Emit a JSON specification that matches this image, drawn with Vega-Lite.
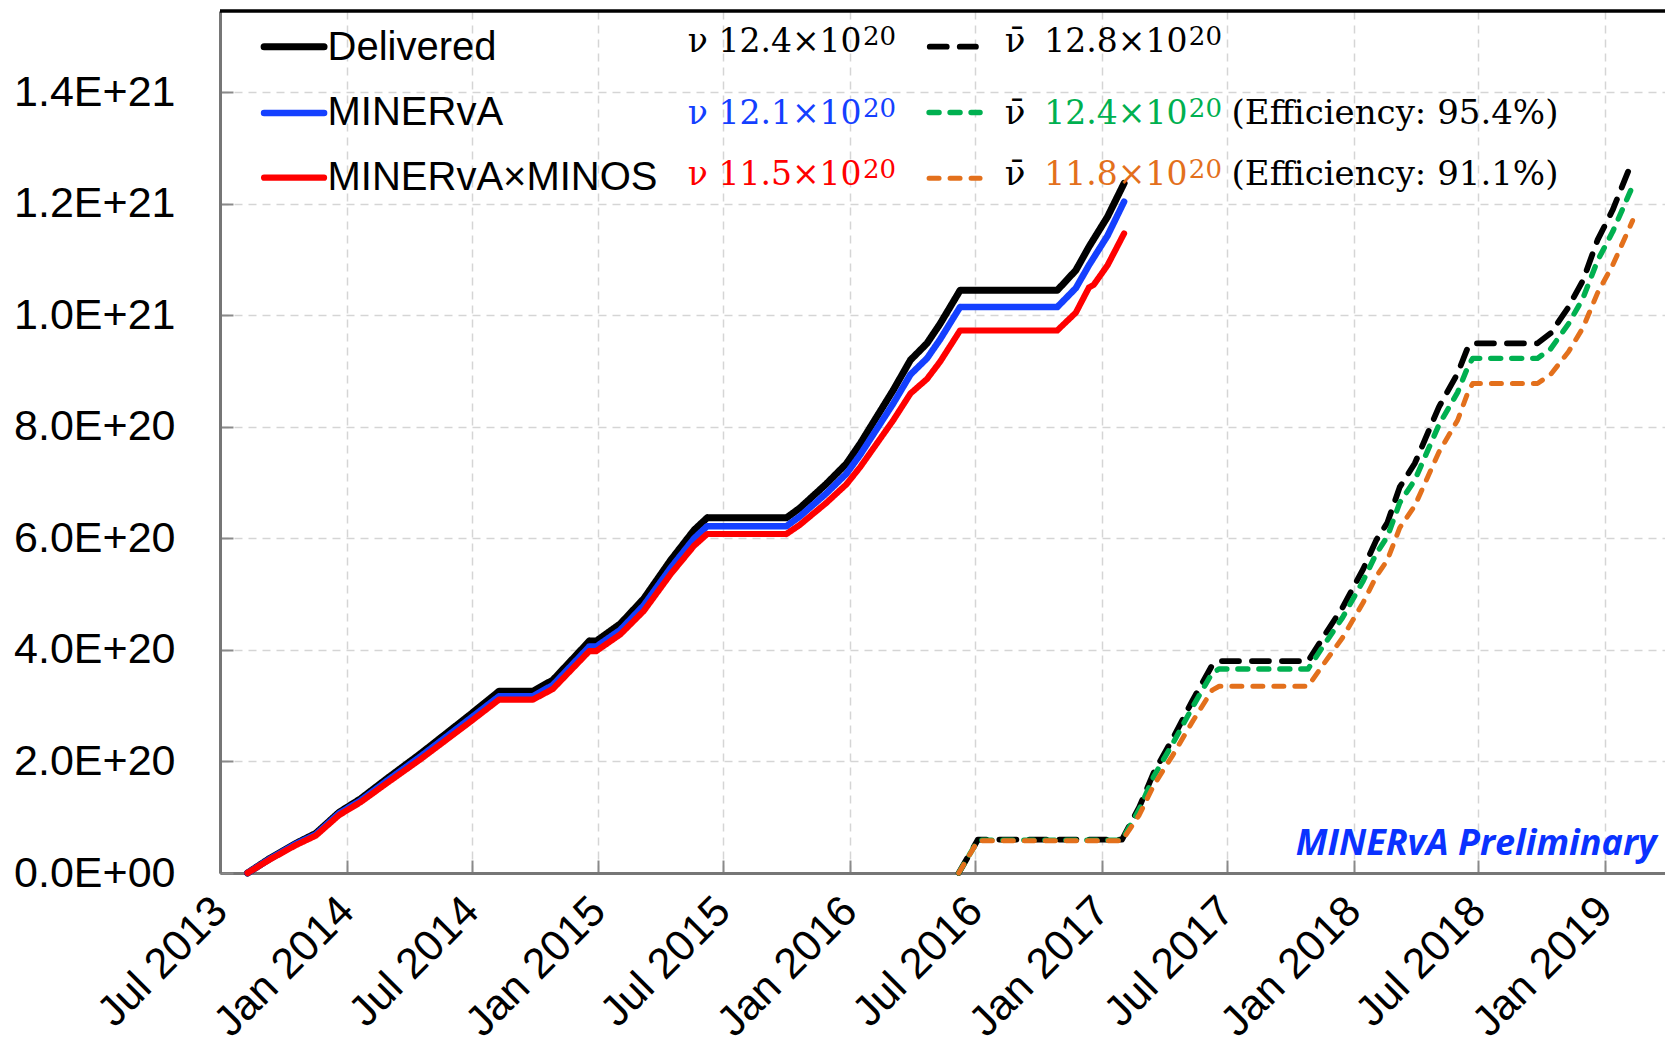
{
  "$schema": "https://vega.github.io/schema/vega-lite/v6.json",
  "width": 1445,
  "height": 862,
  "autosize": {"type": "none"},
  "padding": {"left": 220, "top": 11, "right": 0, "bottom": 173},
  "background": "#ffffff",
  "config": {
    "view": {"stroke": null},
    "font": "Liberation Sans",
    "axis": {
      "labelFont": "Liberation Sans",
      "labelFontSize": 43,
      "labelColor": "#000000",
      "labelLimit": 500,
      "tickColor": "#8a8a8a",
      "tickWidth": 2,
      "tickSize": -13,
      "domainColor": "#767676",
      "domainWidth": 3,
      "gridColor": "#d5d5d5",
      "gridDash": [8, 6],
      "gridWidth": 1.5,
      "labelFlush": false,
      "labelOverlap": false,
      "labelBound": false
    },
    "axisX": {"labelAngle": -45, "labelAlign": "right", "labelBaseline": "middle", "labelPadding": 44, "labelFontSize": 43, "labelLimit": 500, "grid": true},
    "axisY": {"labelPadding": 58, "grid": true}
  },
  "datasets": {
    "curves": [
      {"series": "ν Delivered", "date": "2013-08-10", "pot": 0},
      {"series": "ν Delivered", "date": "2013-09-11", "pot": 0.26e20},
      {"series": "ν Delivered", "date": "2013-10-19", "pot": 0.53e20},
      {"series": "ν Delivered", "date": "2013-11-17", "pot": 0.71e20},
      {"series": "ν Delivered", "date": "2013-12-21", "pot": 1.09e20},
      {"series": "ν Delivered", "date": "2014-01-21", "pot": 1.33e20},
      {"series": "ν Delivered", "date": "2014-02-28", "pot": 1.69e20},
      {"series": "ν Delivered", "date": "2014-04-18", "pot": 2.14e20},
      {"series": "ν Delivered", "date": "2014-06-28", "pot": 2.83e20},
      {"series": "ν Delivered", "date": "2014-08-10", "pot": 3.26e20},
      {"series": "ν Delivered", "date": "2014-09-28", "pot": 3.26e20},
      {"series": "ν Delivered", "date": "2014-10-27", "pot": 3.46e20},
      {"series": "ν Delivered", "date": "2014-12-19", "pot": 4.16e20},
      {"series": "ν Delivered", "date": "2014-12-29", "pot": 4.16e20},
      {"series": "ν Delivered", "date": "2015-02-02", "pot": 4.47e20},
      {"series": "ν Delivered", "date": "2015-03-08", "pot": 4.92e20},
      {"series": "ν Delivered", "date": "2015-04-16", "pot": 5.61e20},
      {"series": "ν Delivered", "date": "2015-05-20", "pot": 6.15e20},
      {"series": "ν Delivered", "date": "2015-06-08", "pot": 6.37e20},
      {"series": "ν Delivered", "date": "2015-10-01", "pot": 6.37e20},
      {"series": "ν Delivered", "date": "2015-10-20", "pot": 6.54e20},
      {"series": "ν Delivered", "date": "2015-11-28", "pot": 6.98e20},
      {"series": "ν Delivered", "date": "2015-12-27", "pot": 7.34e20},
      {"series": "ν Delivered", "date": "2016-01-16", "pot": 7.70e20},
      {"series": "ν Delivered", "date": "2016-02-09", "pot": 8.18e20},
      {"series": "ν Delivered", "date": "2016-03-04", "pot": 8.66e20},
      {"series": "ν Delivered", "date": "2016-03-29", "pot": 9.20e20},
      {"series": "ν Delivered", "date": "2016-04-22", "pot": 9.50e20},
      {"series": "ν Delivered", "date": "2016-05-11", "pot": 9.85e20},
      {"series": "ν Delivered", "date": "2016-06-09", "pot": 10.45e20},
      {"series": "ν Delivered", "date": "2016-10-28", "pot": 10.45e20},
      {"series": "ν Delivered", "date": "2016-11-24", "pot": 10.81e20},
      {"series": "ν Delivered", "date": "2016-12-13", "pot": 11.23e20},
      {"series": "ν Delivered", "date": "2017-01-09", "pot": 11.77e20},
      {"series": "ν Delivered", "date": "2017-02-02", "pot": 12.37e20},

      {"series": "ν MINERvA", "date": "2013-08-10", "pot": 0},
      {"series": "ν MINERvA", "date": "2013-09-11", "pot": 0.25e20},
      {"series": "ν MINERvA", "date": "2013-10-19", "pot": 0.52e20},
      {"series": "ν MINERvA", "date": "2013-11-17", "pot": 0.69e20},
      {"series": "ν MINERvA", "date": "2013-12-21", "pot": 1.07e20},
      {"series": "ν MINERvA", "date": "2014-01-21", "pot": 1.30e20},
      {"series": "ν MINERvA", "date": "2014-02-28", "pot": 1.65e20},
      {"series": "ν MINERvA", "date": "2014-04-18", "pot": 2.09e20},
      {"series": "ν MINERvA", "date": "2014-06-28", "pot": 2.76e20},
      {"series": "ν MINERvA", "date": "2014-08-10", "pot": 3.17e20},
      {"series": "ν MINERvA", "date": "2014-09-28", "pot": 3.17e20},
      {"series": "ν MINERvA", "date": "2014-10-27", "pot": 3.37e20},
      {"series": "ν MINERvA", "date": "2014-12-19", "pot": 4.06e20},
      {"series": "ν MINERvA", "date": "2014-12-29", "pot": 4.06e20},
      {"series": "ν MINERvA", "date": "2015-02-02", "pot": 4.36e20},
      {"series": "ν MINERvA", "date": "2015-03-08", "pot": 4.80e20},
      {"series": "ν MINERvA", "date": "2015-04-16", "pot": 5.47e20},
      {"series": "ν MINERvA", "date": "2015-05-20", "pot": 6.00e20},
      {"series": "ν MINERvA", "date": "2015-06-08", "pot": 6.22e20},
      {"series": "ν MINERvA", "date": "2015-10-01", "pot": 6.22e20},
      {"series": "ν MINERvA", "date": "2015-10-20", "pot": 6.39e20},
      {"series": "ν MINERvA", "date": "2015-11-28", "pot": 6.81e20},
      {"series": "ν MINERvA", "date": "2015-12-27", "pot": 7.16e20},
      {"series": "ν MINERvA", "date": "2016-01-16", "pot": 7.50e20},
      {"series": "ν MINERvA", "date": "2016-02-09", "pot": 7.96e20},
      {"series": "ν MINERvA", "date": "2016-03-04", "pot": 8.42e20},
      {"series": "ν MINERvA", "date": "2016-03-29", "pot": 8.94e20},
      {"series": "ν MINERvA", "date": "2016-04-22", "pot": 9.23e20},
      {"series": "ν MINERvA", "date": "2016-05-11", "pot": 9.57e20},
      {"series": "ν MINERvA", "date": "2016-06-09", "pot": 10.15e20},
      {"series": "ν MINERvA", "date": "2016-10-28", "pot": 10.15e20},
      {"series": "ν MINERvA", "date": "2016-11-24", "pot": 10.49e20},
      {"series": "ν MINERvA", "date": "2016-12-13", "pot": 10.90e20},
      {"series": "ν MINERvA", "date": "2017-01-09", "pot": 11.43e20},
      {"series": "ν MINERvA", "date": "2017-02-02", "pot": 12.04e20},

      {"series": "ν MINERvA×MINOS", "date": "2013-08-10", "pot": 0},
      {"series": "ν MINERvA×MINOS", "date": "2013-09-11", "pot": 0.24e20},
      {"series": "ν MINERvA×MINOS", "date": "2013-10-19", "pot": 0.50e20},
      {"series": "ν MINERvA×MINOS", "date": "2013-11-17", "pot": 0.67e20},
      {"series": "ν MINERvA×MINOS", "date": "2013-12-21", "pot": 1.04e20},
      {"series": "ν MINERvA×MINOS", "date": "2014-01-21", "pot": 1.27e20},
      {"series": "ν MINERvA×MINOS", "date": "2014-02-28", "pot": 1.61e20},
      {"series": "ν MINERvA×MINOS", "date": "2014-04-18", "pot": 2.04e20},
      {"series": "ν MINERvA×MINOS", "date": "2014-06-28", "pot": 2.70e20},
      {"series": "ν MINERvA×MINOS", "date": "2014-08-10", "pot": 3.11e20},
      {"series": "ν MINERvA×MINOS", "date": "2014-09-28", "pot": 3.11e20},
      {"series": "ν MINERvA×MINOS", "date": "2014-10-27", "pot": 3.30e20},
      {"series": "ν MINERvA×MINOS", "date": "2014-12-19", "pot": 3.98e20},
      {"series": "ν MINERvA×MINOS", "date": "2014-12-29", "pot": 3.98e20},
      {"series": "ν MINERvA×MINOS", "date": "2015-02-02", "pot": 4.28e20},
      {"series": "ν MINERvA×MINOS", "date": "2015-03-08", "pot": 4.70e20},
      {"series": "ν MINERvA×MINOS", "date": "2015-04-16", "pot": 5.36e20},
      {"series": "ν MINERvA×MINOS", "date": "2015-05-20", "pot": 5.87e20},
      {"series": "ν MINERvA×MINOS", "date": "2015-06-08", "pot": 6.08e20},
      {"series": "ν MINERvA×MINOS", "date": "2015-10-01", "pot": 6.08e20},
      {"series": "ν MINERvA×MINOS", "date": "2015-10-20", "pot": 6.24e20},
      {"series": "ν MINERvA×MINOS", "date": "2015-11-28", "pot": 6.64e20},
      {"series": "ν MINERvA×MINOS", "date": "2015-12-27", "pot": 6.97e20},
      {"series": "ν MINERvA×MINOS", "date": "2016-01-16", "pot": 7.28e20},
      {"series": "ν MINERvA×MINOS", "date": "2016-02-09", "pot": 7.70e20},
      {"series": "ν MINERvA×MINOS", "date": "2016-03-04", "pot": 8.12e20},
      {"series": "ν MINERvA×MINOS", "date": "2016-03-29", "pot": 8.60e20},
      {"series": "ν MINERvA×MINOS", "date": "2016-04-22", "pot": 8.86e20},
      {"series": "ν MINERvA×MINOS", "date": "2016-05-11", "pot": 9.17e20},
      {"series": "ν MINERvA×MINOS", "date": "2016-06-09", "pot": 9.73e20},
      {"series": "ν MINERvA×MINOS", "date": "2016-10-28", "pot": 9.73e20},
      {"series": "ν MINERvA×MINOS", "date": "2016-11-24", "pot": 10.05e20},
      {"series": "ν MINERvA×MINOS", "date": "2016-12-13", "pot": 10.50e20},
      {"series": "ν MINERvA×MINOS", "date": "2016-12-20", "pot": 10.55e20},
      {"series": "ν MINERvA×MINOS", "date": "2017-01-09", "pot": 10.90e20},
      {"series": "ν MINERvA×MINOS", "date": "2017-02-02", "pot": 11.47e20},

      {"series": "ν̄ Delivered", "date": "2016-06-07", "pot": 0},
      {"series": "ν̄ Delivered", "date": "2016-07-05", "pot": 0.60e20},
      {"series": "ν̄ Delivered", "date": "2017-01-30", "pot": 0.60e20},
      {"series": "ν̄ Delivered", "date": "2017-02-24", "pot": 1.18e20},
      {"series": "ν̄ Delivered", "date": "2017-03-17", "pot": 1.80e20},
      {"series": "ν̄ Delivered", "date": "2017-04-14", "pot": 2.42e20},
      {"series": "ν̄ Delivered", "date": "2017-05-13", "pot": 3.11e20},
      {"series": "ν̄ Delivered", "date": "2017-06-10", "pot": 3.73e20},
      {"series": "ν̄ Delivered", "date": "2017-06-20", "pot": 3.80e20},
      {"series": "ν̄ Delivered", "date": "2017-10-27", "pot": 3.80e20},
      {"series": "ν̄ Delivered", "date": "2017-11-17", "pot": 4.21e20},
      {"series": "ν̄ Delivered", "date": "2017-12-16", "pot": 4.76e20},
      {"series": "ν̄ Delivered", "date": "2018-01-15", "pot": 5.45e20},
      {"series": "ν̄ Delivered", "date": "2018-02-03", "pot": 5.97e20},
      {"series": "ν̄ Delivered", "date": "2018-02-19", "pot": 6.28e20},
      {"series": "ν̄ Delivered", "date": "2018-03-09", "pot": 6.92e20},
      {"series": "ν̄ Delivered", "date": "2018-03-31", "pot": 7.35e20},
      {"series": "ν̄ Delivered", "date": "2018-05-05", "pot": 8.36e20},
      {"series": "ν̄ Delivered", "date": "2018-06-01", "pot": 8.96e20},
      {"series": "ν̄ Delivered", "date": "2018-06-16", "pot": 9.43e20},
      {"series": "ν̄ Delivered", "date": "2018-06-23", "pot": 9.50e20},
      {"series": "ν̄ Delivered", "date": "2018-09-25", "pot": 9.50e20},
      {"series": "ν̄ Delivered", "date": "2018-10-14", "pot": 9.68e20},
      {"series": "ν̄ Delivered", "date": "2018-11-09", "pot": 10.15e20},
      {"series": "ν̄ Delivered", "date": "2018-11-30", "pot": 10.63e20},
      {"series": "ν̄ Delivered", "date": "2018-12-21", "pot": 11.35e20},
      {"series": "ν̄ Delivered", "date": "2019-01-12", "pot": 11.89e20},
      {"series": "ν̄ Delivered", "date": "2019-02-10", "pot": 12.78e20},

      {"series": "ν̄ MINERvA", "date": "2016-06-07", "pot": 0},
      {"series": "ν̄ MINERvA", "date": "2016-07-05", "pot": 0.59e20},
      {"series": "ν̄ MINERvA", "date": "2017-01-30", "pot": 0.59e20},
      {"series": "ν̄ MINERvA", "date": "2017-02-24", "pot": 1.14e20},
      {"series": "ν̄ MINERvA", "date": "2017-03-17", "pot": 1.73e20},
      {"series": "ν̄ MINERvA", "date": "2017-04-14", "pot": 2.33e20},
      {"series": "ν̄ MINERvA", "date": "2017-05-13", "pot": 2.99e20},
      {"series": "ν̄ MINERvA", "date": "2017-06-10", "pot": 3.59e20},
      {"series": "ν̄ MINERvA", "date": "2017-06-20", "pot": 3.66e20},
      {"series": "ν̄ MINERvA", "date": "2017-10-27", "pot": 3.66e20},
      {"series": "ν̄ MINERvA", "date": "2017-11-17", "pot": 4.05e20},
      {"series": "ν̄ MINERvA", "date": "2017-12-16", "pot": 4.58e20},
      {"series": "ν̄ MINERvA", "date": "2018-01-15", "pot": 5.24e20},
      {"series": "ν̄ MINERvA", "date": "2018-02-03", "pot": 5.73e20},
      {"series": "ν̄ MINERvA", "date": "2018-02-19", "pot": 6.03e20},
      {"series": "ν̄ MINERvA", "date": "2018-03-09", "pot": 6.64e20},
      {"series": "ν̄ MINERvA", "date": "2018-03-31", "pot": 7.05e20},
      {"series": "ν̄ MINERvA", "date": "2018-05-05", "pot": 8.04e20},
      {"series": "ν̄ MINERvA", "date": "2018-06-01", "pot": 8.62e20},
      {"series": "ν̄ MINERvA", "date": "2018-06-16", "pot": 9.08e20},
      {"series": "ν̄ MINERvA", "date": "2018-06-23", "pot": 9.23e20},
      {"series": "ν̄ MINERvA", "date": "2018-09-25", "pot": 9.23e20},
      {"series": "ν̄ MINERvA", "date": "2018-10-14", "pot": 9.40e20},
      {"series": "ν̄ MINERvA", "date": "2018-11-09", "pot": 9.85e20},
      {"series": "ν̄ MINERvA", "date": "2018-11-30", "pot": 10.31e20},
      {"series": "ν̄ MINERvA", "date": "2018-12-21", "pot": 10.98e20},
      {"series": "ν̄ MINERvA", "date": "2019-01-12", "pot": 11.50e20},
      {"series": "ν̄ MINERvA", "date": "2019-02-10", "pot": 12.32e20},

      {"series": "ν̄ MINERvA×MINOS", "date": "2016-06-07", "pot": 0},
      {"series": "ν̄ MINERvA×MINOS", "date": "2016-07-05", "pot": 0.58e20},
      {"series": "ν̄ MINERvA×MINOS", "date": "2017-01-30", "pot": 0.58e20},
      {"series": "ν̄ MINERvA×MINOS", "date": "2017-02-24", "pot": 1.04e20},
      {"series": "ν̄ MINERvA×MINOS", "date": "2017-03-17", "pot": 1.57e20},
      {"series": "ν̄ MINERvA×MINOS", "date": "2017-04-14", "pot": 2.12e20},
      {"series": "ν̄ MINERvA×MINOS", "date": "2017-05-13", "pot": 2.73e20},
      {"series": "ν̄ MINERvA×MINOS", "date": "2017-06-10", "pot": 3.28e20},
      {"series": "ν̄ MINERvA×MINOS", "date": "2017-06-20", "pot": 3.35e20},
      {"series": "ν̄ MINERvA×MINOS", "date": "2017-10-27", "pot": 3.35e20},
      {"series": "ν̄ MINERvA×MINOS", "date": "2017-11-17", "pot": 3.72e20},
      {"series": "ν̄ MINERvA×MINOS", "date": "2017-12-16", "pot": 4.22e20},
      {"series": "ν̄ MINERvA×MINOS", "date": "2018-01-15", "pot": 4.85e20},
      {"series": "ν̄ MINERvA×MINOS", "date": "2018-02-03", "pot": 5.32e20},
      {"series": "ν̄ MINERvA×MINOS", "date": "2018-02-19", "pot": 5.61e20},
      {"series": "ν̄ MINERvA×MINOS", "date": "2018-03-09", "pot": 6.19e20},
      {"series": "ν̄ MINERvA×MINOS", "date": "2018-03-31", "pot": 6.59e20},
      {"series": "ν̄ MINERvA×MINOS", "date": "2018-05-05", "pot": 7.55e20},
      {"series": "ν̄ MINERvA×MINOS", "date": "2018-06-01", "pot": 8.12e20},
      {"series": "ν̄ MINERvA×MINOS", "date": "2018-06-16", "pot": 8.62e20},
      {"series": "ν̄ MINERvA×MINOS", "date": "2018-06-23", "pot": 8.78e20},
      {"series": "ν̄ MINERvA×MINOS", "date": "2018-09-25", "pot": 8.78e20},
      {"series": "ν̄ MINERvA×MINOS", "date": "2018-10-14", "pot": 8.94e20},
      {"series": "ν̄ MINERvA×MINOS", "date": "2018-11-09", "pot": 9.35e20},
      {"series": "ν̄ MINERvA×MINOS", "date": "2018-11-30", "pot": 9.78e20},
      {"series": "ν̄ MINERvA×MINOS", "date": "2018-12-21", "pot": 10.40e20},
      {"series": "ν̄ MINERvA×MINOS", "date": "2019-01-12", "pot": 10.90e20},
      {"series": "ν̄ MINERvA×MINOS", "date": "2019-02-10", "pot": 11.70e20}
    ],
    "legendLines": [
      {"series": "ν Delivered", "date": "2013-09-03", "date2": "2013-11-29", "pot": 14.82e20},
      {"series": "ν MINERvA", "date": "2013-09-03", "date2": "2013-11-29", "pot": 13.63e20},
      {"series": "ν MINERvA×MINOS", "date": "2013-09-03", "date2": "2013-11-29", "pot": 12.47e20},
      {"series": "ν̄ Delivered", "date": "2016-04-26", "date2": "2016-07-02", "pot": 14.82e20},
      {"series": "ν̄ MINERvA", "date": "2016-04-25", "date2": "2016-07-08", "pot": 13.64e20},
      {"series": "ν̄ MINERvA×MINOS", "date": "2016-04-25", "date2": "2016-07-08", "pot": 12.46e20}
    ],
    "legendLabels": [
      {"label": "Delivered", "date": "2013-12-04", "pot": 14.58e20},
      {"label": "MINERvA", "date": "2013-12-04", "pot": 13.41e20},
      {"label": "MINERvA×MINOS", "date": "2013-12-04", "pot": 12.25e20}
    ],
    "totals": [
      {"series": "ν Delivered", "label": "ν 12.4×10", "date": "2016-01-18", "date2": "2016-01-20", "pot": 14.73e20},
      {"series": "ν MINERvA", "label": "ν 12.1×10", "date": "2016-01-18", "date2": "2016-01-20", "pot": 13.44e20},
      {"series": "ν MINERvA×MINOS", "label": "ν 11.5×10", "date": "2016-01-18", "date2": "2016-01-20", "pot": 12.34e20},
      {"series": "ν̄ Delivered", "label": "12.8×10", "date": "2017-05-05", "date2": "2017-05-07", "pot": 14.73e20},
      {"series": "ν̄ MINERvA", "label": "12.4×10", "date": "2017-05-05", "date2": "2017-05-07", "pot": 13.44e20},
      {"series": "ν̄ MINERvA×MINOS", "label": "11.8×10", "date": "2017-05-05", "date2": "2017-05-07", "pot": 12.34e20}
    ],
    "nubar": [
      {"label": "\u03bd\u0304", "date": "2016-08-13", "pot": 14.73e20},
      {"label": "\u03bd\u0304", "date": "2016-08-13", "pot": 13.44e20},
      {"label": "\u03bd\u0304", "date": "2016-08-13", "pot": 12.34e20},
      {"label": "(Efficiency: 95.4%)", "date": "2017-07-08", "pot": 13.44e20},
      {"label": "(Efficiency: 91.1%)", "date": "2017-07-08", "pot": 12.34e20}
    ],
    "stamp": [
      {"label": "MINERvA Preliminary", "date": "2019-03-17", "pot": 0.323e20}
    ]
  },
  "layer": [
    {
      "data": {"name": "curves"},
      "mark": {"type": "line", "strokeCap": "round", "strokeJoin": "round"},
      "encoding": {
        "x": {
          "field": "date", "type": "temporal", "title": null,
          "scale": {"type": "utc", "domain": [{"year": 2013, "month": 7, "date": 1, "utc": true}, {"year": 2019, "month": 3, "date": 29, "utc": true}]},
          "axis": {
            "format": "%b %Y",
            "labelLimit": 500,
            "values": [
              {"year": 2013, "month": 7, "date": 1, "utc": true},
              {"year": 2014, "month": 1, "date": 1, "utc": true},
              {"year": 2014, "month": 7, "date": 1, "utc": true},
              {"year": 2015, "month": 1, "date": 1, "utc": true},
              {"year": 2015, "month": 7, "date": 1, "utc": true},
              {"year": 2016, "month": 1, "date": 1, "utc": true},
              {"year": 2016, "month": 7, "date": 1, "utc": true},
              {"year": 2017, "month": 1, "date": 1, "utc": true},
              {"year": 2017, "month": 7, "date": 1, "utc": true},
              {"year": 2018, "month": 1, "date": 1, "utc": true},
              {"year": 2018, "month": 7, "date": 1, "utc": true},
              {"year": 2019, "month": 1, "date": 1, "utc": true}
            ]
          }
        },
        "y": {
          "field": "pot", "type": "quantitative", "title": null,
          "scale": {"domain": [0, 15.46e20], "nice": false, "zero": true},
          "axis": {
            "values": [0, 2e20, 4e20, 6e20, 8e20, 10e20, 12e20, 14e20],
            "labelExpr": "datum.value == 0 ? '0.0E+00' : upper(format(datum.value, '.1e'))"
          }
        },
        "color": {
          "field": "series", "type": "nominal", "legend": null,
          "scale": {
            "domain": ["ν Delivered", "ν MINERvA", "ν MINERvA×MINOS", "ν̄ Delivered", "ν̄ MINERvA", "ν̄ MINERvA×MINOS"],
            "range": ["#000000", "#1440ff", "#ff0000", "#000000", "#00b050", "#e3701c"]
          }
        },
        "strokeDash": {
          "field": "series", "type": "nominal", "legend": null,
          "scale": {
            "domain": ["ν Delivered", "ν MINERvA", "ν MINERvA×MINOS", "ν̄ Delivered", "ν̄ MINERvA", "ν̄ MINERvA×MINOS"],
            "range": [[1, 0], [1, 0], [1, 0], [17, 13], [10, 11], [10, 11]]
          }
        },
        "strokeWidth": {
          "field": "series", "type": "nominal", "legend": null,
          "scale": {
            "domain": ["ν Delivered", "ν MINERvA", "ν MINERvA×MINOS", "ν̄ Delivered", "ν̄ MINERvA", "ν̄ MINERvA×MINOS"],
            "range": [7, 5, 4.5, 6, 4, 4]
          }
        }
      }
    },
    {
      "data": {"values": [{}]},
      "mark": {"type": "rule", "stroke": "#000000", "strokeWidth": 3.5},
      "encoding": {"y": {"datum": 15.46e20, "type": "quantitative", "title": null}}
    },
    {
      "data": {"name": "legendLines"},
      "mark": {"type": "rule", "strokeCap": "round"},
      "encoding": {
        "x": {"field": "date", "type": "temporal", "title": null},
        "x2": {"field": "date2"},
        "y": {"field": "pot", "type": "quantitative", "title": null},
        "color": {"field": "series", "type": "nominal", "legend": null},
        "strokeDash": {"field": "series", "type": "nominal", "legend": null},
        "strokeWidth": {"field": "series", "type": "nominal", "legend": null}
      }
    },
    {
      "data": {"name": "legendLabels"},
      "mark": {"type": "text", "font": "Liberation Sans", "fontSize": 40, "align": "left", "baseline": "alphabetic", "color": "#000000"},
      "encoding": {
        "x": {"field": "date", "type": "temporal", "title": null},
        "y": {"field": "pot", "type": "quantitative", "title": null},
        "text": {"field": "label"}
      }
    },
    {
      "data": {"name": "totals"},
      "mark": {"type": "text", "font": "DejaVu Serif", "fontSize": 33, "align": "right", "baseline": "alphabetic"},
      "encoding": {
        "x": {"field": "date", "type": "temporal", "title": null},
        "y": {"field": "pot", "type": "quantitative", "title": null},
        "text": {"field": "label"},
        "color": {"field": "series", "type": "nominal", "legend": null}
      }
    },
    {
      "data": {"name": "totals"},
      "mark": {"type": "text", "font": "DejaVu Serif", "fontSize": 26, "align": "left", "baseline": "alphabetic", "dy": -7},
      "encoding": {
        "x": {"field": "date2", "type": "temporal", "title": null},
        "y": {"field": "pot", "type": "quantitative", "title": null},
        "text": {"value": "20"},
        "color": {"field": "series", "type": "nominal", "legend": null}
      }
    },
    {
      "data": {"name": "nubar"},
      "mark": {"type": "text", "font": "DejaVu Serif", "fontSize": 34, "align": "left", "baseline": "alphabetic", "color": "#000000"},
      "encoding": {
        "x": {"field": "date", "type": "temporal", "title": null},
        "y": {"field": "pot", "type": "quantitative", "title": null},
        "text": {"field": "label"}
      }
    },
    {
      "data": {"name": "stamp"},
      "mark": {"type": "text", "font": "Open Sans", "fontSize": 36, "fontWeight": "bold", "fontStyle": "italic", "align": "right", "baseline": "alphabetic", "color": "#0a32ff"},
      "encoding": {
        "x": {"field": "date", "type": "temporal", "title": null},
        "y": {"field": "pot", "type": "quantitative", "title": null},
        "text": {"field": "label"}
      }
    }
  ]
}
